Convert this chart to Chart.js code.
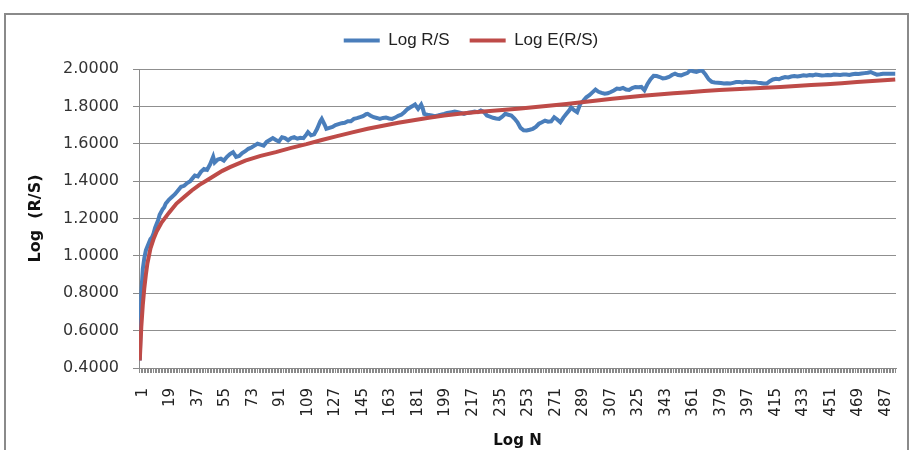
<!DOCTYPE html>
<html>
<head>
<meta charset="utf-8">
<script src="https://cdn.jsdelivr.net/npm/chart.js@4.4.1/dist/chart.umd.min.js"></script>
<style>
  html, body { margin: 0; padding: 0; background: #fff; }
  #wrap { width: 912px; height: 450px; }
</style>
</head>
<body>
<div id="wrap"><canvas id="rsChart" width="912" height="450"></canvas></div>
<script>
// Log R/S vs Log N
const seriesNames = ['Log R/S', 'Log E(R/S)'];
const categoryCount = 495;
const tickLabels = [1, 19, 37, 55, 73, 91, 109, 127, 145, 163, 181, 199, 217, 235, 253,
  271, 289, 307, 325, 343, 361, 379, 397, 415, 433, 451, 469, 487];

// observed series (N, value)
const rsN = [1, 2, 3, 4, 5, 6, 7, 8, 9, 10, 11, 12, 13, 14, 15, 16, 17, 18, 19, 20,
  22, 24, 26, 28, 30, 32, 34, 36, 37, 39, 41, 43, 45, 47, 49, 50, 52, 54, 56, 58,
  60, 62, 64, 66, 68, 70, 72, 74, 76, 78, 80, 82, 84, 86, 88, 90, 92, 94, 96, 98,
  100, 102, 104, 106, 108, 110, 111, 113, 115, 117, 119, 120, 122, 123, 125, 127, 129, 131, 133, 135,
  137, 139, 141, 143, 145, 147, 149, 150, 152, 154, 156, 158, 160, 162, 164, 166, 168, 170, 172, 174,
  176, 178, 180, 181, 183, 185, 186, 187, 189, 192, 194, 196, 198, 200, 202, 205, 207, 209, 211, 213,
  215, 218, 220, 222, 224, 226, 228, 230, 232, 234, 236, 238, 240, 242, 244, 246, 248, 250, 252, 254,
  256, 258, 260, 262, 264, 266, 268, 270, 272, 274, 276, 278, 280, 282, 283, 285, 287, 289, 291, 293,
  295, 297, 299, 301, 303, 305, 307, 309, 311, 313, 315, 317, 319, 321, 323, 325, 327, 329, 331, 333,
  335, 337, 339, 341, 343, 345, 347, 349, 351, 353, 355, 357, 359, 361, 363, 365, 367, 369, 371, 373,
  375, 377, 379, 381, 383, 385, 387, 389, 391, 393, 395, 397, 399, 401, 403, 405, 407, 409, 411, 413,
  415, 417, 419, 421, 423, 425, 427, 429, 431, 433, 435, 437, 439, 441, 443, 445, 447, 449, 451, 453,
  455, 457, 459, 461, 463, 465, 467, 469, 471, 473, 475, 477, 479, 481, 483, 485, 487, 489, 491, 493, 495];
const rsV = [0.44, 0.80, 0.93, 0.99, 1.03, 1.05, 1.07, 1.09, 1.10, 1.12, 1.15, 1.17, 1.19, 1.22, 1.235, 1.25, 1.26, 1.28, 1.29, 1.30,
  1.315, 1.33, 1.35, 1.37, 1.375, 1.39, 1.40, 1.42, 1.43, 1.425, 1.45, 1.465, 1.46, 1.49, 1.53, 1.50, 1.515, 1.52, 1.51, 1.53,
  1.545, 1.555, 1.53, 1.535, 1.55, 1.56, 1.573, 1.58, 1.59, 1.60, 1.595, 1.59, 1.61, 1.62, 1.63, 1.62, 1.612, 1.635, 1.63, 1.618,
  1.63, 1.635, 1.627, 1.632, 1.63, 1.65, 1.662, 1.645, 1.65, 1.68, 1.72, 1.733, 1.70, 1.68, 1.685, 1.69, 1.70, 1.705, 1.71, 1.712,
  1.72, 1.72, 1.733, 1.737, 1.742, 1.748, 1.758, 1.76, 1.75, 1.742, 1.738, 1.733, 1.738, 1.74, 1.735, 1.733, 1.74, 1.75, 1.755, 1.769,
  1.785, 1.795, 1.805, 1.81, 1.787, 1.81, 1.79, 1.76, 1.755, 1.751, 1.748, 1.751, 1.756, 1.76, 1.765, 1.769, 1.772, 1.769, 1.765, 1.76,
  1.765, 1.769, 1.772, 1.769, 1.778, 1.77, 1.751, 1.745, 1.739, 1.735, 1.733, 1.745, 1.76, 1.755, 1.751, 1.735, 1.715, 1.685, 1.672, 1.671,
  1.675, 1.68, 1.69, 1.707, 1.715, 1.724, 1.718, 1.72, 1.742, 1.73, 1.715, 1.74, 1.76, 1.78, 1.795, 1.78, 1.769, 1.813, 1.83, 1.849,
  1.86, 1.875, 1.89, 1.878, 1.872, 1.868, 1.87, 1.877, 1.885, 1.895, 1.893, 1.899, 1.89, 1.888, 1.898, 1.904, 1.902, 1.904, 1.886, 1.92,
  1.945, 1.963, 1.962, 1.957, 1.95, 1.952, 1.957, 1.968, 1.975, 1.968, 1.966, 1.972, 1.978, 1.993, 1.988, 1.984, 1.99, 1.99, 1.97, 1.945,
  1.931, 1.928, 1.927, 1.925, 1.922, 1.924, 1.922, 1.926, 1.93, 1.931, 1.928, 1.932, 1.931, 1.929, 1.93, 1.927, 1.925, 1.922, 1.922, 1.935,
  1.944, 1.948, 1.945, 1.952, 1.957, 1.955, 1.96, 1.962, 1.96, 1.963, 1.966, 1.964, 1.968, 1.966, 1.97, 1.968, 1.965, 1.966, 1.968, 1.967,
  1.97, 1.969, 1.968, 1.97, 1.971, 1.968, 1.972, 1.975, 1.973, 1.976, 1.978, 1.98, 1.984, 1.976, 1.97, 1.972, 1.975, 1.975, 1.974, 1.975, 1.975];

// expected series (N, value)
const ersN = [1, 2, 3, 4, 5, 6, 7, 8, 10, 12, 15, 20, 25, 30, 35, 40, 45, 50, 55, 60,
  70, 80, 90, 100, 110, 120, 130, 140, 150, 160, 170, 180, 190, 200, 210, 220, 230, 240, 250, 260,
  270, 280, 290, 300, 310, 320, 330, 340, 350, 360, 370, 380, 390, 400, 410, 420, 430, 440, 450, 460,
  470, 480, 490, 495];
const ersV = [0.44, 0.62, 0.74, 0.83, 0.90, 0.96, 1.00, 1.04, 1.09, 1.13, 1.175, 1.23, 1.28, 1.315, 1.35, 1.38, 1.405, 1.43, 1.455, 1.475,
  1.51, 1.535, 1.555, 1.578, 1.598, 1.62, 1.641, 1.661, 1.68, 1.696, 1.712, 1.726, 1.739, 1.751, 1.76, 1.768, 1.775, 1.782, 1.789, 1.797,
  1.805, 1.813, 1.822, 1.832, 1.841, 1.849, 1.857, 1.864, 1.87, 1.876, 1.882, 1.887, 1.892, 1.896, 1.90, 1.904, 1.909, 1.914, 1.919, 1.924,
  1.93, 1.936, 1.941, 1.944];

const toPoints = (ns, vs) => ns.map((n, i) => ({x: n, y: vs[i]}));

const frame = {
  id: 'frame',
  beforeInit(chart) {
    const fit = chart.legend.fit;
    chart.legend.fit = function () { fit.call(this); this.height += 10; };
  },
  afterLayout(chart) {
    chart.legend.left += 40;
  },
  beforeDraw(chart) {
    const c = chart.ctx;
    c.save();
    c.fillStyle = '#fff';
    c.fillRect(0, 0, chart.width, chart.height);
    c.strokeStyle = '#8a8a8a';
    c.lineWidth = 2;
    c.strokeRect(5, 14, 903, 460);
    c.restore();
  }
};

var ctx = document.getElementById('rsChart');
new Chart(ctx, {
  type: 'line',
  data: {
    datasets: [{
      label: seriesNames[0],
      data: toPoints(rsN, rsV),
      borderColor: '#4a7ebb',
      backgroundColor: '#4a7ebb',
      borderWidth: 4,
      pointRadius: 0,
      tension: 0,
      order: 1
    }, {
      label: seriesNames[1],
      data: toPoints(ersN, ersV),
      borderColor: '#be4b48',
      backgroundColor: '#be4b48',
      borderWidth: 4,
      pointRadius: 0,
      tension: 0,
      order: 0
    }]
  },
  options: {
    responsive: false,
    animation: false,
    layout: { padding: { top: 12, left: 6, right: 16, bottom: 0 } },
    plugins: {
      legend: {
        position: 'top',
        labels: {
          usePointStyle: true,
          pointStyle: 'line',
          pointStyleWidth: 36,
          padding: 20,
          color: '#222',
          font: { family: "'Liberation Sans Narrow', 'Liberation Sans', sans-serif", size: 17 },
          sort: (a, b) => a.datasetIndex - b.datasetIndex
        }
      },
      tooltip: { enabled: false }
    },
    scales: {
      x: {
        type: 'linear',
        min: 0.5,
        max: categoryCount + 0.5,
        afterBuildTicks: axis => {
          const t = [];
          for (let n = 1; n <= categoryCount; n++) t.push({value: n});
          axis.ticks = t;
        },
        afterFit: axis => {
          axis.height = 82;
          axis.paddingLeft = 0;
          axis.paddingRight = 0;
        },
        ticks: {
          autoSkip: false,
          minRotation: 90,
          maxRotation: 90,
          padding: 15,
          labelOffset: 3,
          color: '#222',
          font: { family: 'DejaVu Sans', size: 15 },
          callback: v => tickLabels.includes(v) ? String(v) : ''
        },
        grid: { drawOnChartArea: false, drawTicks: true, tickLength: 5, tickColor: '#8a8a8a' },
        border: { color: '#8a8a8a' },
        title: {
          display: true,
          text: 'Log N',
          color: '#111',
          font: { family: 'DejaVu Sans', size: 15, weight: 'bold' },
          padding: { top: 0, bottom: 0 }
        }
      },
      y: {
        min: 0.4,
        max: 2.0,
        afterFit: axis => { axis.width = 133; },
        ticks: {
          stepSize: 0.2,
          padding: 14,
          color: '#333',
          font: { family: 'DejaVu Sans', size: 16 },
          callback: v => v.toFixed(4)
        },
        grid: { color: '#8f8f8f', tickLength: 6, tickColor: '#8a8a8a' },
        border: { color: '#8a8a8a' },
        title: {
          display: true,
          text: 'Log  (R/S)',
          color: '#111',
          font: { family: 'DejaVu Sans', size: 16, weight: 'bold' },
          padding: { top: 20, bottom: 0 }
        }
      }
    }
  },
  plugins: [frame]
});
</script>
</body>
</html>
